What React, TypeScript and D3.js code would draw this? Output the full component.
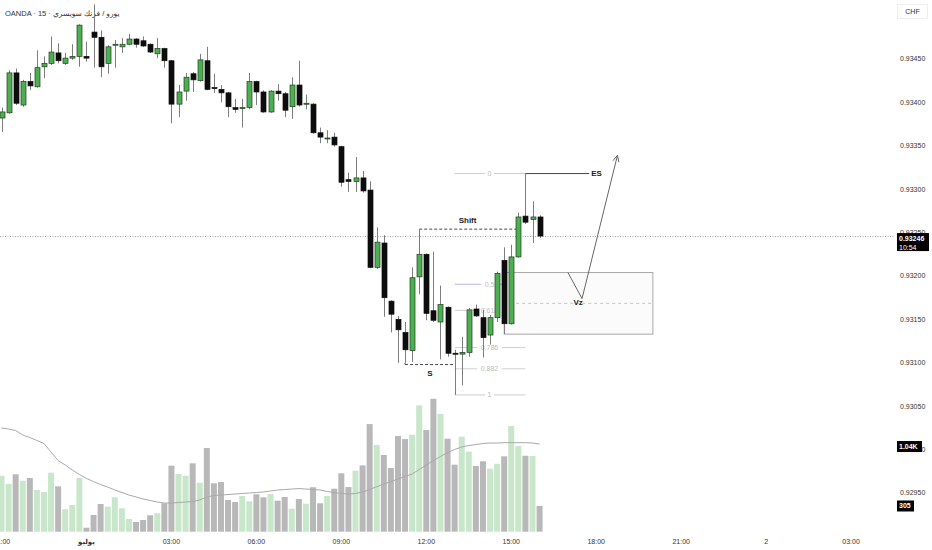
import React from 'react';
import * as d3 from 'd3';

// ---- data (15-minute bars, index 0 = 21:00 of previous day) ----
const opens = [0.93382,0.93388,0.93434,0.93397,0.93424,0.93418,0.93441,0.93445,0.93457,0.93445,0.93451,0.93453,0.93453,0.93481,0.93475,0.93445,0.93466,0.93464,0.93467,0.93473,0.93471,0.93467,0.93456,0.93462,0.93448,0.93398,0.93413,0.93433,0.93425,0.93448,0.93417,0.93415,0.93411,0.93394,0.93393,0.93394,0.93424,0.93412,0.93389,0.93413,0.93410,0.93395,0.93420,0.93398,0.93398,0.93365,0.93358,0.93360,0.93349,0.93311,0.93309,0.93313,0.93299,0.93210,0.93238,0.93171,0.93150,0.93135,0.93114,0.93199,0.93225,0.93160,0.93147,0.93164,0.93111,0.93110,0.93112,0.93162,0.93152,0.93132,0.93152,0.93218,0.93145,0.93222,0.93269,0.93265,0.93268];
const highs = [0.93394,0.93437,0.93439,0.93426,0.93434,0.93460,0.93453,0.93476,0.93468,0.93457,0.93467,0.93490,0.93470,0.93513,0.93483,0.93466,0.93472,0.93474,0.93479,0.93474,0.93476,0.93468,0.93474,0.93463,0.93449,0.93420,0.93434,0.93435,0.93456,0.93464,0.93433,0.93420,0.93412,0.93404,0.93404,0.93434,0.93425,0.93414,0.93414,0.93421,0.93412,0.93429,0.93448,0.93409,0.93399,0.93371,0.93368,0.93365,0.93350,0.93319,0.93337,0.93321,0.93309,0.93256,0.93247,0.93172,0.93154,0.93147,0.93210,0.93254,0.93226,0.93228,0.93189,0.93165,0.93115,0.93130,0.93163,0.93167,0.93161,0.93155,0.93205,0.93233,0.93236,0.93273,0.93318,0.93286,0.93270];
const lows = [0.93366,0.93387,0.93397,0.93395,0.93414,0.93417,0.93428,0.93443,0.93445,0.93443,0.93449,0.93441,0.93447,0.93440,0.93429,0.93433,0.93440,0.93457,0.93466,0.93463,0.93464,0.93457,0.93451,0.93440,0.93376,0.93383,0.93402,0.93412,0.93424,0.93414,0.93411,0.93400,0.93383,0.93388,0.93371,0.93392,0.93397,0.93388,0.93388,0.93402,0.93383,0.93381,0.93395,0.93392,0.93364,0.93353,0.93353,0.93349,0.93303,0.93297,0.93297,0.93296,0.93209,0.93208,0.93153,0.93135,0.93100,0.93100,0.93101,0.93179,0.93149,0.93147,0.93104,0.93107,0.93063,0.93074,0.93107,0.93153,0.93106,0.93121,0.93147,0.93133,0.93144,0.93221,0.93260,0.93238,0.93244];
const closes = [0.93389,0.93434,0.93399,0.93424,0.93419,0.93440,0.93445,0.93458,0.93448,0.93451,0.93453,0.93489,0.93451,0.93475,0.93441,0.93464,0.93467,0.93467,0.93473,0.93467,0.93465,0.93458,0.93462,0.93448,0.93398,0.93412,0.93429,0.93426,0.93449,0.93415,0.93416,0.93411,0.93395,0.93392,0.93394,0.93424,0.93412,0.93389,0.93413,0.93410,0.93391,0.93420,0.93397,0.93399,0.93365,0.93360,0.93359,0.93351,0.93308,0.93309,0.93313,0.93298,0.93210,0.93239,0.93175,0.93156,0.93138,0.93115,0.93198,0.93225,0.93157,0.93149,0.93167,0.93111,0.93110,0.93112,0.93161,0.93154,0.93129,0.93152,0.93203,0.93145,0.93222,0.93268,0.93262,0.93268,0.93246];
const volumes = [664,566,681,605,637,495,471,700,538,266,317,637,47,198,329,297,408,278,151,115,139,195,218,337,783,684,664,811,581,993,574,589,376,352,423,361,444,408,447,368,412,273,388,332,527,337,423,510,693,530,723,787,1277,1028,910,755,1135,1099,1150,1499,1206,1577,1396,1103,795,1127,949,779,835,747,806,894,1254,1016,901,898,305];
const volumeMA = [1230,1218,1200,1147,1117,1082,1046,945,844,791,732,678,631,595,560,530,495,465,435,412,388,370,352,340,340,346,352,358,376,412,429,435,441,447,453,459,465,471,483,495,500,506,512,506,500,495,477,465,453,447,453,471,500,534,566,595,625,655,684,738,791,844,892,939,975,1005,1022,1034,1046,1052,1052,1056,1056,1056,1056,1052,1040];

const priceTicks = [0.9345,0.934,0.9335,0.933,0.9325,0.932,0.9315,0.931,0.9305,0.93,0.9295];
const timeTickIdx = [0,12,24,36,48,60,72,84,96,108,120];
const timeTickLabels = ['21:00','يوليو','03:00','06:00','09:00','12:00','15:00','18:00','21:00','2','03:00'];

const fibLevels = [0,0.5,0.618,0.786,0.882,1];
const fibLabels = ['0','0.5','0.618','0.786','0.882','1'];
const fibStartIdx = 64, fibEndIdx = 74, fibPrice0 = 0.93318, fibPrice1 = 0.93063;

const zoneStartIdx = 71, zoneEndIdx = 92, zoneTop = 0.93204, zoneBottom = 0.93133;
const shiftFromIdx = 59, shiftToIdx = 72.8, shiftPrice = 0.93254;
const sFromIdx = 57, sToIdx = 64, sPrice = 0.93098;
const esFromIdx = 74, esToIdx = 83, esPrice = 0.93318;
const arrowIdx = [80, 82, 87];
const arrowPrice = [0.93204, 0.93174, 0.93339];

const lastPrice = 0.93246;
const lastPriceText = '0.93246';
const countdownText = '10:54';
const maLabel = '1.04K';
const volLabel = '305';
const titleText = 'OANDA · 15 · يورو / فرنك سويسري';

const FONT = "'Liberation Sans', 'DejaVu Sans', Arial, sans-serif";

export default function App() {
  const x = d3.scaleLinear().domain([0, 1]).range([1.5, 8.58]);
  const y = d3.scaleLinear().domain([0.9295, 0.9345]).range([493, 59]);
  const yv = d3.scaleLinear().domain([0, 1000]).range([531.7, 447.4]);

  const maLine = d3.line<number>().x((_, i) => x(i)).y(d => yv(d))(volumeMA) || '';
  const arrowPts = arrowIdx.map((d, i) => [x(d), y(arrowPrice[i])] as [number, number]);
  const arrowPath = d3.line()(arrowPts) || '';
  const [ax1, ay1] = arrowPts[1];
  const [ax2, ay2] = arrowPts[2];
  const ang = Math.atan2(ay2 - ay1, ax2 - ax1);
  const hl = 7, ha = 0.45;
  const head = `M${ax2 - hl * Math.cos(ang - ha)},${ay2 - hl * Math.sin(ang - ha)}L${ax2},${ay2}L${ax2 - hl * Math.cos(ang + ha)},${ay2 - hl * Math.sin(ang + ha)}`;

  const fx0 = x(fibStartIdx), fx1 = x(fibEndIdx), fxm = (fx0 + fx1) / 2 - 0.5;
  const lastY = y(lastPrice);
  const maY = yv(volumeMA[volumeMA.length - 1]);
  const vY = yv(volumes[volumes.length - 1]);

  return (
    <svg width={932} height={550} style={{ position: 'absolute', left: 0, top: 0, background: '#fff' }} fontFamily={FONT}>
      <rect x={0} y={0} width={932} height={550} fill="#fff" />

      {/* title */}
      <text x={5} y={15.5} fontSize={7.5} fill="#333">{titleText}</text>

      {/* price axis labels */}
      {priceTicks.map(p => (
        <text key={p} x={900} y={y(p)} dy="0.35em" fontSize={7} fill="#333">{p.toFixed(5)}</text>
      ))}
      {/* time axis labels */}
      {timeTickIdx.map((t, i) => (
        <text key={i} x={x(t)} y={543.5} textAnchor="middle" fontSize={7} fill="#333" fontWeight={i === 1 ? 700 : 400}>{timeTickLabels[i]}</text>
      ))}

      {/* CHF box */}
      <rect x={897.5} y={4.5} width={30} height={14} fill="#fff" stroke="#eee" />
      <text x={912.5} y={11.5} dy="0.35em" textAnchor="middle" fontSize={7} fill="#333">CHF</text>

      {/* fib levels */}
      {fibLevels.map((lv, i) => {
        const py = y(fibPrice0 + (fibPrice1 - fibPrice0) * lv);
        const w = fibLabels[i].length * 3.9 + 5;
        return (
          <g key={lv}>
            <line x1={fx0} x2={fx1} y1={py} y2={py} stroke={lv === 0.5 ? '#b4b8e8' : '#cfcfcf'} strokeWidth={1} />
            <rect x={fxm - w / 2} y={py - 4} width={w} height={8} fill="#fff" />
            <text x={fxm} y={py} dy="0.35em" textAnchor="middle" fontSize={7} fill="#bdbdbd">{fibLabels[i]}</text>
          </g>
        );
      })}

      {/* zone */}
      <rect x={x(zoneStartIdx)} y={y(zoneTop)} width={x(zoneEndIdx) - x(zoneStartIdx)} height={y(zoneBottom) - y(zoneTop)} fill="#fbfbfb" stroke="#a8a8a8" strokeWidth={1} />
      <line x1={x(zoneStartIdx)} x2={x(zoneEndIdx)} y1={y((zoneTop + zoneBottom) / 2)} y2={y((zoneTop + zoneBottom) / 2)} stroke="#c4c4c4" strokeDasharray="3,3" />

      {/* current price dotted line */}
      <line x1={0} x2={895} y1={lastY + 0.5} y2={lastY + 0.5} stroke="#8a8a8a" strokeDasharray="1,1.5" strokeWidth={0.8} />

      {/* shift & S lines */}
      <line x1={x(shiftFromIdx)} x2={x(shiftToIdx)} y1={y(shiftPrice)} y2={y(shiftPrice)} stroke="#333" strokeDasharray="3,2" strokeWidth={0.9} />
      <line x1={x(sFromIdx)} x2={x(sToIdx)} y1={y(sPrice)} y2={y(sPrice)} stroke="#333" strokeDasharray="3,2" strokeWidth={0.9} />
      <line x1={x(sFromIdx)} x2={x(sFromIdx)} y1={y(lows[sFromIdx])} y2={y(sPrice)} stroke="#555" strokeWidth={1} />

      {/* volume */}
      {volumes.map((v, i) => (
        <rect key={i} x={x(i) - 3} y={yv(v)} width={6} height={yv(0) - yv(v)} fill={closes[i] >= opens[i] ? '#c8e6c9' : '#b8b8b8'} />
      ))}
      <path d={maLine} fill="none" stroke="#a9a9a9" strokeWidth={1} />

      {/* candles */}
      {opens.map((o, i) => {
        const c = closes[i];
        const up = c >= o;
        const top = y(Math.max(o, c));
        const bh = Math.max(1, y(Math.min(o, c)) - top);
        const cx = Math.round(x(i)) + 0.5;
        return (
          <g key={i}>
            <line x1={cx} x2={cx} y1={y(highs[i])} y2={y(lows[i])} stroke="#7d7d7d" strokeWidth={1} />
            <rect x={cx - 2.5} y={top} width={5} height={bh} fill={up ? '#4caf50' : '#0d0d0d'} stroke={up ? '#1f3d1f' : '#0d0d0d'} strokeWidth={0.7} />
          </g>
        );
      })}

      {/* ES line */}
      <line x1={x(esFromIdx)} x2={x(esToIdx)} y1={y(esPrice)} y2={y(esPrice)} stroke="#444" strokeWidth={1} />
      <text x={x(esToIdx) + 2} y={y(esPrice)} dy="0.35em" fontSize={8} fontWeight={700} fill="#222">ES</text>

      {/* arrow */}
      <path d={arrowPath} fill="none" stroke="#666" strokeWidth={1} />
      <path d={head} fill="none" stroke="#666" strokeWidth={1} />

      {/* text labels */}
      <text x={(x(shiftFromIdx) + x(shiftToIdx)) / 2 - 0.5} y={y(shiftPrice) - 6} textAnchor="middle" fontSize={8} fontWeight={700} fill="#222">Shift</text>
      <text x={(x(sFromIdx) + x(sToIdx)) / 2} y={y(sPrice) + 11} textAnchor="middle" fontSize={8} fontWeight={700} fill="#222">S</text>
      <text x={x(arrowIdx[1]) - 4} y={y(arrowPrice[1]) + 6} textAnchor="middle" fontSize={8} fontWeight={700} fill="#222">Vz</text>

      {/* axis value boxes */}
      <rect x={897} y={lastY - 3} width={32} height={18} fill="#000" />
      <text x={899} y={lastY + 2.5} dy="0.35em" fontSize={7} fontWeight={700} fill="#fff">{lastPriceText}</text>
      <text x={899} y={lastY + 11} dy="0.35em" fontSize={7} fill="#fff">{countdownText}</text>

      <rect x={897} y={maY - 3} width={25} height={11} fill="#000" />
      <text x={899} y={maY + 2.5} dy="0.35em" fontSize={7} fontWeight={700} fill="#fff">{maLabel}</text>

      <rect x={897} y={vY - 5.5} width={17} height={11} fill="#000" />
      <text x={899} y={vY} dy="0.35em" fontSize={7} fontWeight={700} fill="#fff">{volLabel}</text>
    </svg>
  );
}
